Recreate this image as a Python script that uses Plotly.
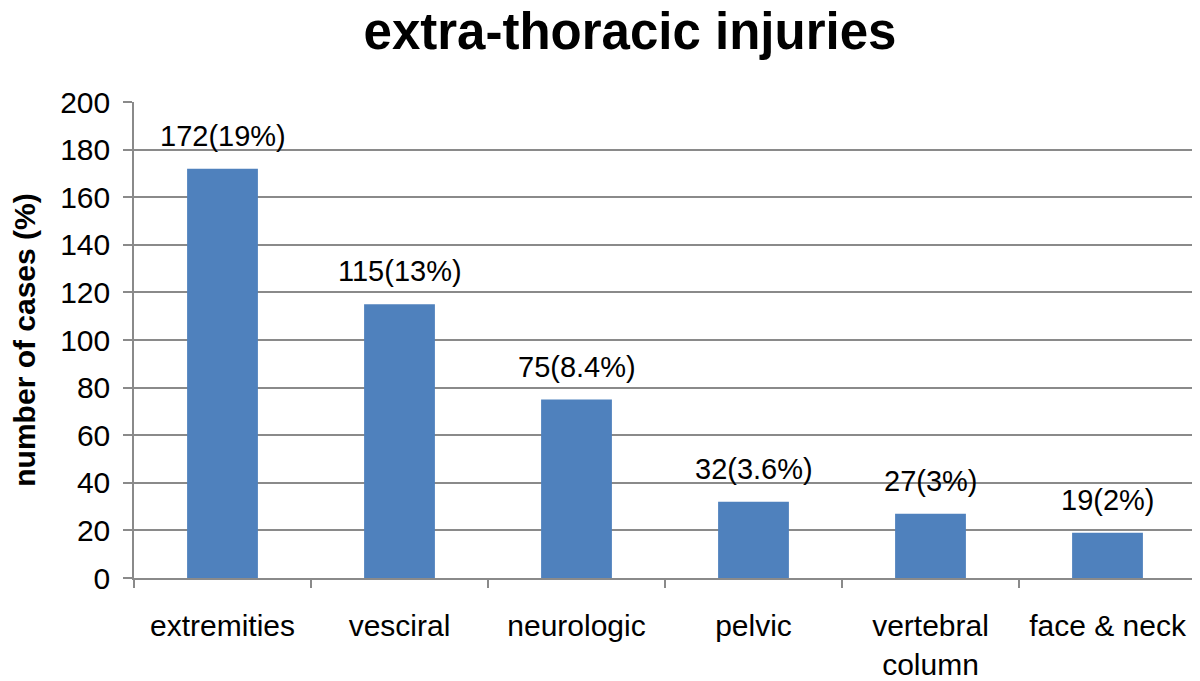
import plotly.graph_objects as go

categories = ["extremities", "vesciral", "neurologic", "pelvic", "vertebral<br>column", "face & neck"]
values = [172, 115, 75, 32, 27, 19]
labels = ["172(19%)", "115(13%)", "75(8.4%)", "32(3.6%)", "27(3%)", "19(2%)"]
y_ticks = [0, 20, 40, 60, 80, 100, 120, 140, 160, 180, 200]

FONT = "Liberation Sans, Arial, Helvetica, sans-serif"
GRID = "#8a8a8a"

fig = go.Figure()
fig.add_trace(go.Bar(x=categories, y=values, marker=dict(color="#4F81BD", line=dict(width=0)),
                     width=0.4, hoverinfo="skip"))

for c, v, t in zip(categories, values, labels):
    fig.add_annotation(x=c, y=v, text=t, showarrow=False, yanchor="bottom", yshift=15,
                       font=dict(family=FONT, size=29, color="#000"))

# page body has an 8px default margin; margins compensate for it
fig.update_layout(
    width=1200, height=681,
    margin=dict(l=126, r=12, t=94, b=111, autoexpand=False),
    paper_bgcolor="white", plot_bgcolor="white",
    showlegend=False,
    title=dict(text="<b>extra-thoracic injuries</b>", x=622 / 1200, xanchor="center", xref="container",
               y=1 - 23 / 681, yanchor="middle", yref="container",
               font=dict(family=FONT, size=51, color="#000")),
    font=dict(family=FONT, size=30, color="#000"),
)
fig.update_xaxes(
    type="category", tickson="boundaries", ticks="outside", ticklen=8, tickwidth=1.5, tickcolor=GRID,
    showline=True, linecolor=GRID, linewidth=1.5, showgrid=False, automargin=False,
    tickfont=dict(family=FONT, size=30, color="#000"), ticklabelstandoff=20,
)
fig.update_yaxes(
    range=[0, 200], tickvals=y_ticks, ticks="outside", ticklen=9, tickwidth=1.5, tickcolor=GRID,
    showgrid=True, gridcolor=GRID, gridwidth=1.5, showline=True, linecolor=GRID, linewidth=1.5,
    zeroline=False, tickfont=dict(family=FONT, size=30, color="#000"), ticklabelstandoff=7,
    automargin=False,
    title=dict(text="<b>number of cases (%)</b>", font=dict(family=FONT, size=30, color="#000"), standoff=22),
)

fig.write_html("out.html")
